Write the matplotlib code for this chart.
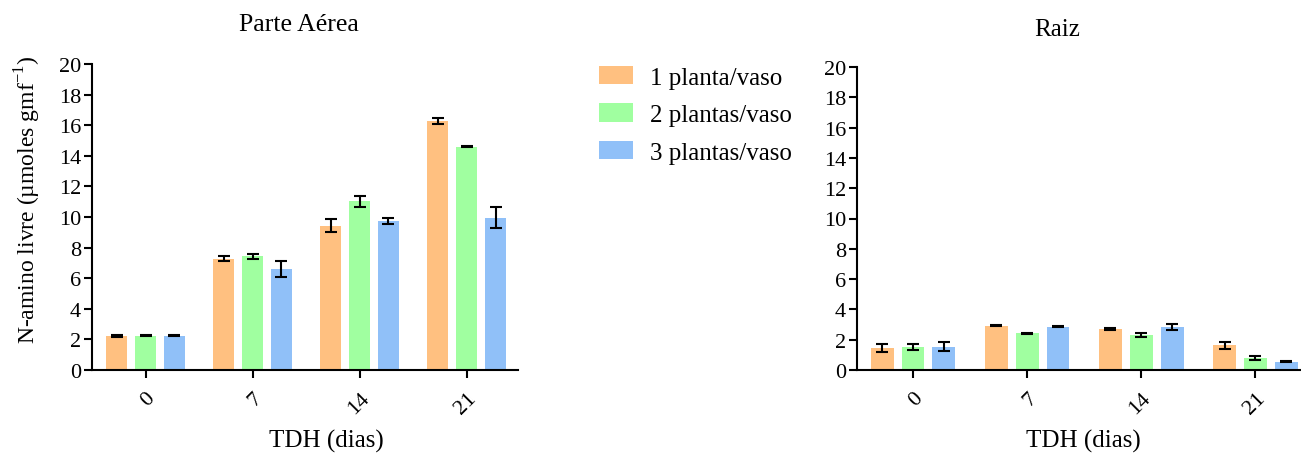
import numpy as np
import matplotlib
matplotlib.use('Agg')
import matplotlib.pyplot as plt

plt.rcParams['font.family'] = ['Liberation Serif', 'DejaVu Serif']
plt.rcParams['mathtext.fontset'] = 'custom'
plt.rcParams['mathtext.rm'] = 'Liberation Serif'

# data
days = ['0', '7', '14', '21']
series = ['1 planta/vaso', '2 plantas/vaso', '3 plantas/vaso']
colors = ['#FFC080', '#A0FFA0', '#90C0F8']

aerea_mean = [
    [2.25, 7.28, 9.44, 16.25],
    [2.25, 7.42, 11.03, 14.6],
    [2.25, 6.58, 9.71, 9.95],
]
aerea_err = [
    [0.07, 0.15, 0.41, 0.2],
    [0.05, 0.16, 0.36, 0.03],
    [0.04, 0.52, 0.2, 0.7],
]
raiz_mean = [
    [1.45, 2.93, 2.73, 1.63],
    [1.5, 2.42, 2.33, 0.8],
    [1.55, 2.86, 2.83, 0.55],
]
raiz_err = [
    [0.26, 0.03, 0.06, 0.25],
    [0.2, 0.03, 0.14, 0.13],
    [0.27, 0.03, 0.19, 0.03],
]

fig = plt.figure(figsize=(13.01, 4.56), dpi=100)
W, H = 1301, 456
ax1 = fig.add_axes([92 / W, 1 - 371 / H, (518 - 92) / W, (371 - 65) / H])
ax2 = fig.add_axes([857 / W, 1 - 371 / H, (1300 - 857) / W, (371 - 68) / H])

x = np.arange(len(days))
width = 0.2
step = 0.27


def draw(ax, means, errs, xlim):
    for i in range(len(series)):
        ax.bar(x + (i - 1) * step, means[i], width, color=colors[i],
               label=series[i], zorder=2)
        ax.errorbar(x + (i - 1) * step, means[i], yerr=errs[i], fmt='none',
                    ecolor='black', elinewidth=1.5, capsize=4, capthick=1.5,
                    zorder=3)
    ax.set_xlim(*xlim)
    ax.set_ylim(0, 20)
    ax.set_yticks(range(0, 21, 2))
    ax.set_xticks(x)
    ax.set_xticklabels(days, rotation=45, ha='right', rotation_mode='anchor')
    ax.spines['top'].set_visible(False)
    ax.spines['right'].set_visible(False)
    for s in ('left', 'bottom'):
        ax.spines[s].set_linewidth(1.5)
    ax.tick_params(axis='both', direction='out', length=6, width=1.5,
                   labelsize=16, pad=2)
    ax.tick_params(axis='x', pad=7)


draw(ax1, aerea_mean, aerea_err, (-0.5, 3.48))
draw(ax2, raiz_mean, raiz_err, (-0.49, 3.39))

ax1.set_ylabel('N-amino livre (µmoles gmf$^{-1}$)', fontsize=17)
ax1.yaxis.set_label_coords(-0.115, 0.56)

fig.text(299 / W, 1 - 25 / H, 'Parte Aérea', fontsize=18.5, ha='center', va='center')
fig.text(1057 / W, 1 - 30 / H, 'Raiz', fontsize=18, ha='center', va='center')
fig.text(326 / W, 1 - 441 / H, 'TDH (dias)', fontsize=18, ha='center', va='center')
fig.text(1083 / W, 1 - 441 / H, 'TDH (dias)', fontsize=18, ha='center', va='center')

ax1.legend(loc='upper left', bbox_to_anchor=(589 / W, 1 - 57 / H),
           bbox_transform=fig.transFigure, frameon=False, fontsize=18,
           handlelength=1.35, handleheight=0.75, handletextpad=0.7,
           labelspacing=0.58, borderaxespad=0)

fig.savefig('out.png', dpi=100)
